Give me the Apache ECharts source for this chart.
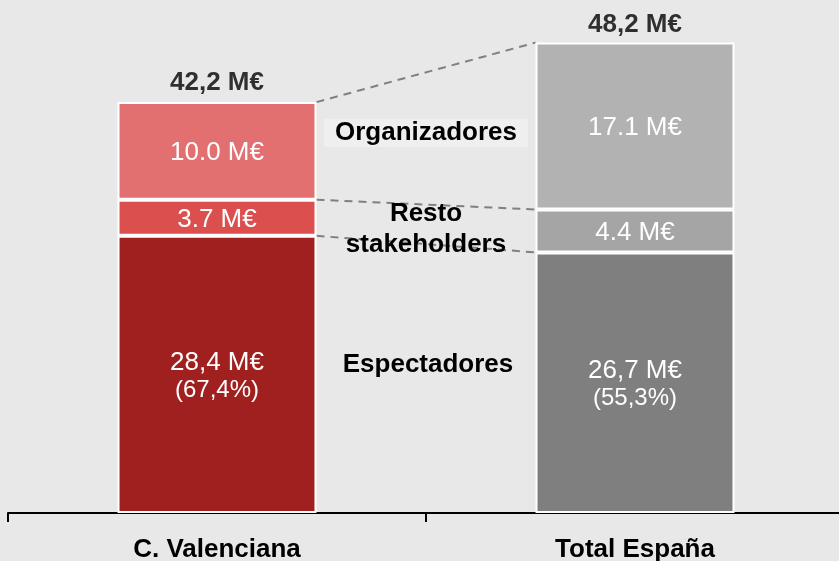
<!DOCTYPE html>
<html>
<head>
<meta charset="utf-8">
<script src="https://cdn.jsdelivr.net/npm/echarts@6/dist/echarts.min.js"></script>
<style>
html,body{margin:0;padding:0;background:#e8e8e8;}
#c{width:839px;height:561px;}
</style>
</head>
<body>
<div id="c"></div>
<script>
// ---- data ----
var categories = ['C. Valenciana', 'Total España'];
var espectadores = [28.4, 26.7];
var resto = [3.7, 4.4];
var organizadores = [10.0, 17.1];
var totals = [42.2, 48.2];
var totalLabels = ['42,2 M€', '48,2 M€'];
var espectadoresLabels = ['28,4 M€\n{p|(67,4%)}', '26,7 M€\n{p|(55,3%)}'];
var restoLabels = ['3.7 M€', '4.4 M€'];
var organizadoresLabels = ['10.0 M€', '17.1 M€'];
var segmentNames = ['Organizadores', 'Resto\nstakeholders', 'Espectadores'];

var FONT = 'Arial, "Liberation Sans", sans-serif';
var BAR_RATIO = 0.476;

function cum(i) {
  var a = espectadores[i], b = a + resto[i], c = b + organizadores[i];
  return [a, b, c];
}
var cumL = cum(0), cumR = cum(1);
var connectorData = [[0, cumL[0], 1, cumR[0]], [0, cumL[1], 1, cumR[1]], [0, cumL[2], 1, cumR[2]]];

function segLabel(arr) {
  return {
    show: true, position: 'inside', color: '#ffffff',
    fontFamily: FONT, fontSize: 26, lineHeight: 28, padding: [4, 0, 0, 0],
    formatter: function (p) { return arr[p.dataIndex]; },
    rich: { p: { color: '#ffffff', fontFamily: FONT, fontSize: 24, lineHeight: 28 } }
  };
}

var chart = echarts.init(document.getElementById('c'), null, { renderer: 'canvas' });
chart.setOption({
  backgroundColor: '#e8e8e8',
  animation: false,
  grid: { left: 8, width: 836, top: 25, bottom: 48, containLabel: false, outerBoundsMode: 'none' },
  xAxis: {
    type: 'category', data: categories, boundaryGap: true,
    axisLine: { show: true, lineStyle: { color: '#000000', width: 2 } },
    axisTick: { show: true, length: 9, lineStyle: { color: '#000000', width: 2 } },
    axisLabel: { color: '#000000', fontFamily: FONT, fontWeight: 'bold', fontSize: 26, margin: 24 }
  },
  yAxis: { type: 'value', min: 0, max: 50, show: false, splitLine: { show: false } },
  series: [
    {
      type: 'custom', z: 1, silent: true,
      data: connectorData,
      renderItem: function (params, api) {
        var p1 = api.coord([api.value(0), api.value(1)]);
        var p2 = api.coord([api.value(2), api.value(3)]);
        var half = api.size([1, 0])[0] * BAR_RATIO / 2;
        return {
          type: 'line',
          shape: { x1: p1[0] + half, y1: p1[1], x2: p2[0] - half, y2: p2[1] },
          style: { stroke: '#808080', lineWidth: 2, lineDash: [8, 6] }
        };
      },
      encode: { x: 0, y: 1 }
    },
    {
      name: 'Espectadores', type: 'bar', stack: 's', barWidth: (BAR_RATIO * 100) + '%', z: 3,
      data: [
        { value: espectadores[0], itemStyle: { color: '#a02020' } },
        { value: espectadores[1], itemStyle: { color: '#7f7f7f' } }
      ],
      itemStyle: { borderColor: '#ffffff', borderWidth: 2 },
      label: segLabel(espectadoresLabels)
    },
    {
      name: 'Resto stakeholders', type: 'bar', stack: 's', z: 3,
      data: [
        { value: resto[0], itemStyle: { color: '#dc4f4f' } },
        { value: resto[1], itemStyle: { color: '#a5a5a5' } }
      ],
      itemStyle: { borderColor: '#ffffff', borderWidth: 2 },
      label: segLabel(restoLabels)
    },
    {
      name: 'Organizadores', type: 'bar', stack: 's', z: 3,
      data: [
        { value: organizadores[0], itemStyle: { color: '#e27070' } },
        { value: organizadores[1], itemStyle: { color: '#b2b2b2' } }
      ],
      itemStyle: { borderColor: '#ffffff', borderWidth: 2 },
      label: segLabel(organizadoresLabels)
    },
    {
      type: 'scatter', symbolSize: 0, z: 4, silent: true,
      data: [[0, totals[0]], [1, totals[1]]],
      label: {
        show: true, position: 'top', distance: 5, color: '#000000',
        fontFamily: FONT, fontWeight: 'bold', fontSize: 26,
        formatter: function (p) { return totalLabels[p.dataIndex]; }
      }
    }
  ],
  graphic: [
    {
      type: 'text', x: 426, y: 119, z: 10,
      style: {
        text: segmentNames[0], fill: '#000000', font: 'bold 26px ' + FONT,
        align: 'center', verticalAlign: 'top',
        backgroundColor: '#efefef', padding: [1, 11, 1, 11]
      }
    },
    {
      type: 'text', x: 426, y: 198, z: 10,
      style: {
        text: segmentNames[1], fill: '#000000', font: 'bold 26px ' + FONT,
        align: 'center', verticalAlign: 'top', lineHeight: 31
      }
    },
    {
      type: 'text', x: 428, y: 352, z: 10,
      style: { text: segmentNames[2], fill: '#000000', font: 'bold 26px ' + FONT, align: 'center', verticalAlign: 'top' }
    }
  ]
});
</script>
</body>
</html>
